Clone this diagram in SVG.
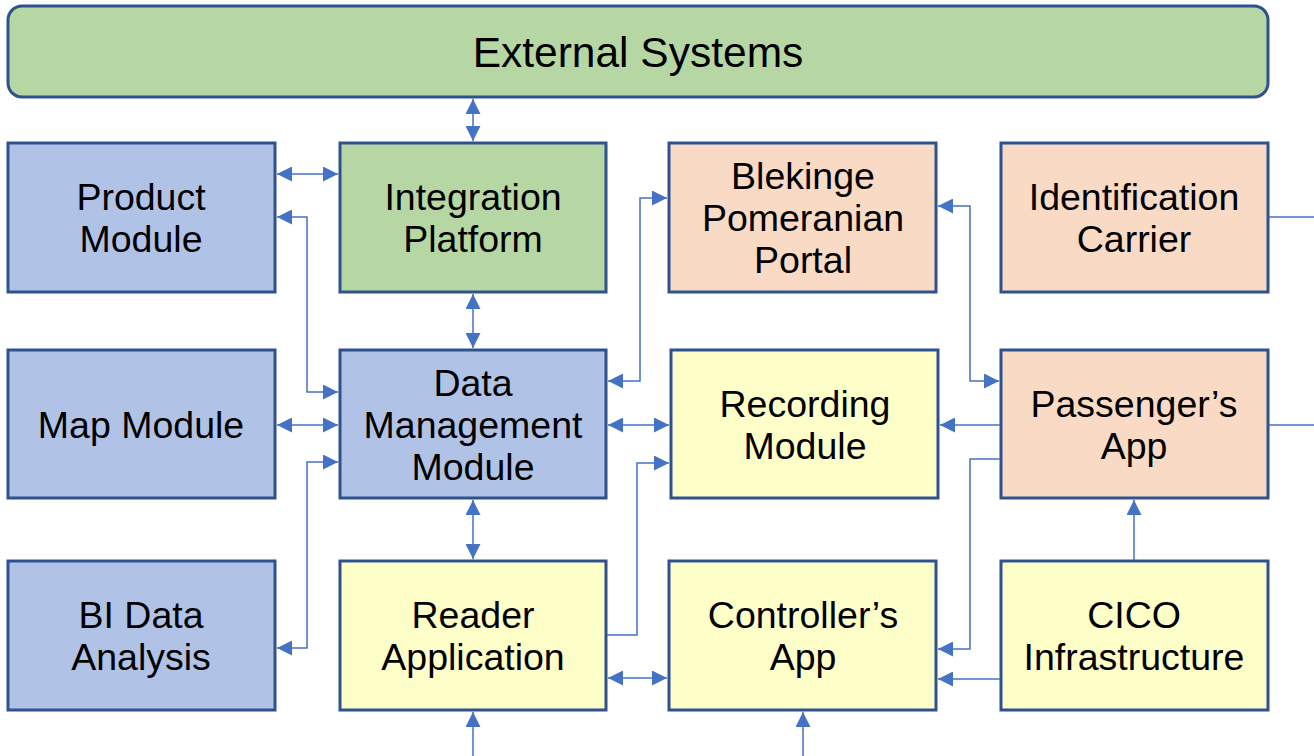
<svg xmlns="http://www.w3.org/2000/svg" width="1314" height="756" viewBox="0 0 1314 756">
<style>
.box{stroke:#2f528f;stroke-width:3}
.blue{fill:#b0c3e6}
.green{fill:#b6d7a3}
.peach{fill:#f9dac4}
.yellow{fill:#fefec8}
.lbl{font-family:"Liberation Sans",Arial,sans-serif;font-size:37.5px;fill:#000;text-anchor:middle}
.c{fill:none;stroke:#4472c4;stroke-width:1.5}
.b{marker-start:url(#ah);marker-end:url(#ah)}
.e{marker-end:url(#ah)}
</style>
<defs>
<marker id="ah" viewBox="0 0 14 14" refX="14" refY="7" markerWidth="15" markerHeight="15" markerUnits="userSpaceOnUse" orient="auto-start-reverse">
<path d="M0,0 L14,7 L0,14 z" fill="#4472c4"/>
</marker>
</defs>
<rect width="1314" height="756" fill="#fff"/>
<g id="external-systems"><rect class="box green" x="8" y="6" width="1260" height="91" rx="14"/><text class="lbl" x="638" y="67" style="font-size:42.5px">External Systems</text></g>
<g id="product-module"><rect class="box blue" x="8" y="143" width="267" height="149"/><text class="lbl" x="141" y="210">Product</text><text class="lbl" x="141" y="252">Module</text></g>
<g id="integration-platform"><rect class="box green" x="340" y="143" width="266" height="149"/><text class="lbl" x="473" y="210">Integration</text><text class="lbl" x="473" y="252">Platform</text></g>
<g id="blekinge-portal"><rect class="box peach" x="669" y="143" width="267" height="149"/><text class="lbl" x="803" y="189">Blekinge</text><text class="lbl" x="803" y="231">Pomeranian</text><text class="lbl" x="803" y="273">Portal</text></g>
<g id="identification-carrier"><rect class="box peach" x="1001" y="143" width="267" height="149"/><text class="lbl" x="1134" y="210">Identification</text><text class="lbl" x="1134" y="252">Carrier</text></g>
<g id="map-module"><rect class="box blue" x="8" y="350" width="267" height="148"/><text class="lbl" x="141" y="438">Map Module</text></g>
<g id="data-management-module"><rect class="box blue" x="340" y="350" width="266" height="148"/><text class="lbl" x="473" y="396">Data</text><text class="lbl" x="473" y="438">Management</text><text class="lbl" x="473" y="480">Module</text></g>
<g id="recording-module"><rect class="box yellow" x="671" y="350" width="267" height="148"/><text class="lbl" x="805" y="417">Recording</text><text class="lbl" x="805" y="459">Module</text></g>
<g id="passengers-app"><rect class="box peach" x="1001" y="350" width="267" height="148"/><text class="lbl" x="1134" y="417">Passenger’s</text><text class="lbl" x="1134" y="459">App</text></g>
<g id="bi-data-analysis"><rect class="box blue" x="8" y="561" width="267" height="149"/><text class="lbl" x="141" y="628">BI Data</text><text class="lbl" x="141" y="670">Analysis</text></g>
<g id="reader-application"><rect class="box yellow" x="340" y="561" width="266" height="149"/><text class="lbl" x="473" y="628">Reader</text><text class="lbl" x="473" y="670">Application</text></g>
<g id="controllers-app"><rect class="box yellow" x="669" y="561" width="267" height="149"/><text class="lbl" x="803" y="628">Controller’s</text><text class="lbl" x="803" y="670">App</text></g>
<g id="cico-infrastructure"><rect class="box yellow" x="1001" y="561" width="267" height="149"/><text class="lbl" x="1134" y="628">CICO</text><text class="lbl" x="1134" y="670">Infrastructure</text></g>
<g id="connectors">
<path class="c b" d="M473,99 V141"/>
<path class="c b" d="M277,174 H338"/>
<path class="c b" d="M277,217 H307 V392 H338"/>
<path class="c b" d="M277,425 H338"/>
<path class="c b" d="M338,462 H307 V648 H277"/>
<path class="c b" d="M473,294 V348"/>
<path class="c b" d="M473,500 V559"/>
<path class="c b" d="M608,678 H667"/>
<path class="c b" d="M608,425 H669"/>
<path class="c b" d="M608,381 H640 V198 H667"/>
<path class="c e" d="M607,635 H637 V463 H669"/>
<path class="c b" d="M938,206 H970 V381 H999"/>
<path class="c e" d="M1000,425 H940"/>
<path class="c e" d="M1000,459 H970 V649 H938"/>
<path class="c e" d="M1000,679 H938"/>
<path class="c e" d="M1134,560 V500"/>
<path class="c" d="M1269,217 H1314"/>
<path class="c" d="M1269,425 H1314"/>
<path class="c e" d="M473,756 V712"/>
<path class="c e" d="M803,756 V712"/>
</g>
</svg>
